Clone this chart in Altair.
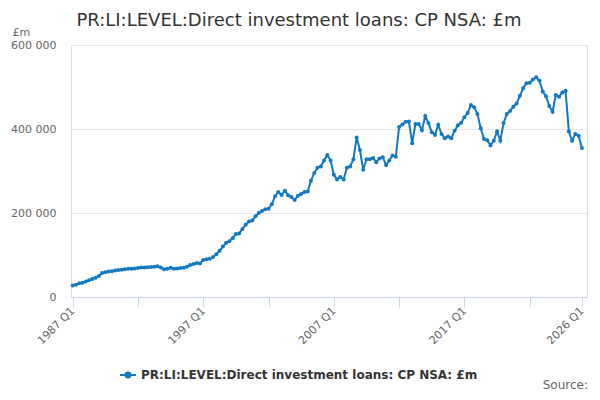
import altair as alt
import pandas as pd

START_YEAR = 1987
SERIES_NAME = "PR:LI:LEVEL:Direct investment loans: CP NSA: £m"
TITLE = "PR:LI:LEVEL:Direct investment loans: CP NSA: £m"

values = [
    27500, 29000, 33000, 34000, 37000, 40000, 43000, 46000, 50000, 57000,
    59000, 61000, 61500, 63000, 64500, 65000, 66000, 67000, 67500, 68000,
    69000, 70000, 70500, 71000, 71500, 72000, 73000, 70000, 66000, 67000,
    69500, 67000, 68000, 69000, 69500, 72000, 76000, 78500, 81000, 80000,
    88000, 90000, 91000, 95000, 102000, 110000, 120000, 129000, 133000, 140000,
    150000, 151000, 162000, 172000, 180000, 182000, 192000, 200000, 205000, 209000,
    210000, 221000, 240000, 250000, 243000, 253000, 242000, 238000, 231000, 241000,
    245000, 250000, 251000, 277000, 295000, 308000, 311000, 325000, 338000, 325000,
    291000, 280000, 286000, 280000, 308000, 311000, 328000, 380000, 350000, 303000,
    328000, 328000, 331000, 321000, 330000, 333000, 314000, 325000, 337000, 334000,
    405000, 411000, 417000, 418000, 366000, 412000, 412000, 397000, 431000, 414000,
    392000, 386000, 410000, 388000, 378000, 382000, 378000, 396000, 409000, 415000,
    428000, 438000, 457000, 452000, 436000, 402000, 376000, 373000, 361000, 372000,
    394000, 372000, 414000, 436000, 443000, 453000, 461000, 479000, 497000, 509000,
    510000, 518000, 523000, 515000, 489000, 478000, 455000, 441000, 481000, 477000,
    487000, 491000, 394000, 372000, 388000, 384000, 355000,
]

quarters = [f"{START_YEAR + i // 4} Q{i % 4 + 1}" for i in range(len(values))]
idx = list(range(len(values)))

y_ticks = [0, 200000, 400000, 600000]
x_tick_idx = list(range(0, len(values), 10)) + [len(values) - 1]
last = len(values) - 1

COLOR = "#1379c2"
FONT = "DejaVu Sans"

df = pd.DataFrame({"idx": idx, "quarter": quarters, "value": values, "series": SERIES_NAME})

x_label_expr = (
    f"(datum.value % 40 == 0 || datum.value == {last}) ? "
    f"(toString({START_YEAR} + floor(datum.value / 4)) + ' Q' + toString(datum.value % 4 + 1)) : ''"
)

x_enc = alt.X(
    "idx:Q",
    scale=alt.Scale(domain=[-0.52, 157.56], nice=False, zero=False),
    axis=alt.Axis(
        values=x_tick_idx,
        labelExpr=x_label_expr,
        title=None,
        grid=False,
        domainColor="#ccd6eb",
        tickColor="#ccd6eb",
        tickSize=10,
        labelAngle=-45,
        labelAlign="right",
        labelBaseline="middle",
        labelPadding=2,
        labelFont=FONT,
        labelFontSize=11,
        labelColor="#666666",
        labelOverlap=False,
        labelFlush=False,
    ),
)

y_enc = alt.Y(
    "value:Q",
    scale=alt.Scale(domain=[0, 600000], nice=False),
    axis=alt.Axis(
        values=y_ticks,
        labelExpr="datum.value == 0 ? '0' : format(datum.value / 1000, 'd') + ' 000'",
        grid=True,
        gridColor="#e6e6e6",
        domain=False,
        ticks=False,
        labelPadding=15,
        labelFont=FONT,
        labelFontSize=11,
        labelColor="#666666",
        title="£m",
        titleAngle=0,
        titleX=-59,
        titleY=-13,
        titleAlign="left",
        titleBaseline="middle",
        titleFont=FONT,
        titleFontSize=11,
        titleFontWeight="normal",
        titleColor="#666666",
    ),
)

color_enc = alt.Color(
    "series:N",
    scale=alt.Scale(range=[COLOR]),
    legend=alt.Legend(
        orient="none",
        legendX=48,
        legendY=321,
        title=None,
        labelFont=FONT,
        labelFontSize=12,
        labelFontWeight="bold",
        labelColor="#333333",
        labelLimit=500,
        symbolType="M-1,0L1,0M-0.3,0a0.3,0.3 0 1,0 0.6,0a0.3,0.3 0 1,0 -0.6,0",
        symbolSize=256,
        symbolStrokeWidth=2,
        symbolFillColor=COLOR,
        symbolStrokeColor=COLOR,
    ),
)

base = alt.Chart(df)
line = base.mark_line(strokeWidth=2).encode(x=x_enc, y=y_enc, color=color_enc)
pts = base.mark_point(filled=True, size=16, opacity=1).encode(
    x="idx:Q", y="value:Q", color=alt.Color("series:N", legend=None)
)
source = alt.Chart(pd.DataFrame({"t": ["Source:"]})).mark_text(
    align="right", baseline="middle", font=FONT, fontSize=12, color="#666666"
).encode(text="t:N", x=alt.value(517), y=alt.value(340))

chart = (
    alt.layer(line, pts, source)
    .properties(
        width=516,
        height=252,
        padding={"left": 63, "top": 37, "right": 5, "bottom": 95},
        autosize=alt.AutoSizeParams(type="none"),
        title=alt.TitleParams(
            TITLE,
            font=FONT,
            fontSize=18,
            fontWeight="normal",
            color="#333333",
            anchor="middle",
            dx=-30,
            dy=18,
            offset=14,
        ),
    )
    .configure_view(stroke=None)
    .configure(background="white")
)

chart.save("out.html", embed_options={"renderer": "svg", "actions": False})
